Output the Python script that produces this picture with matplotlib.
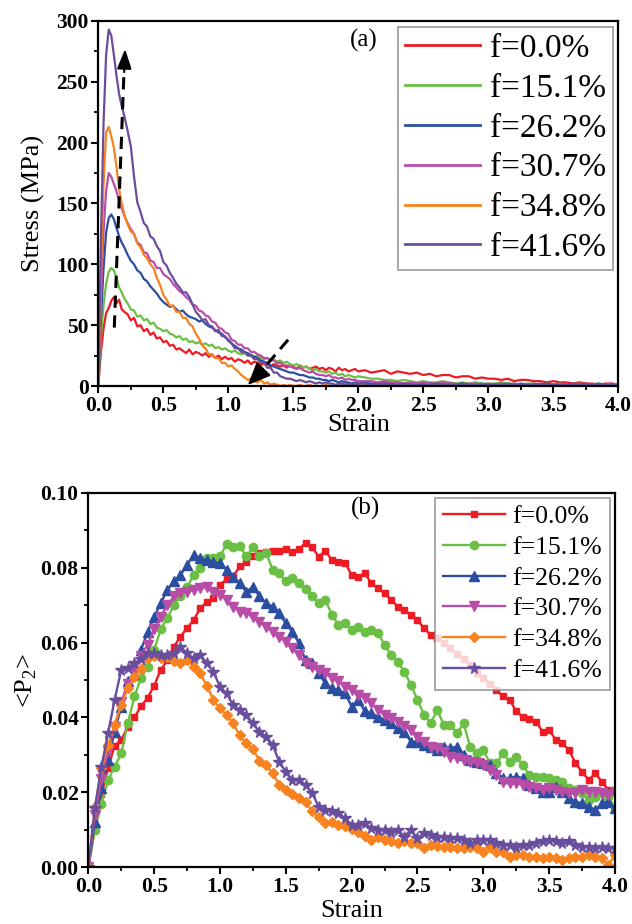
import matplotlib
matplotlib.use("Agg")
import matplotlib.pyplot as plt
from matplotlib.ticker import MultipleLocator
from matplotlib.font_manager import FontProperties

plt.rcParams['font.family'] = ['Liberation Serif', 'DejaVu Serif']
plt.rcParams['mathtext.fontset'] = 'custom'
plt.rcParams['mathtext.rm'] = 'Liberation Serif'

labels = ["f=0.0%", "f=15.1%", "f=26.2%", "f=30.7%", "f=34.8%", "f=41.6%"]
colors = ["#ED1C24", "#6CBF45", "#2B4EA1", "#B84DA8", "#F7821F", "#6A4E9E"]
markers = ["s", "o", "^", "v", "D", "*"]

xticks = [0.0, 0.5, 1.0, 1.5, 2.0, 2.5, 3.0, 3.5, 4.0]
yticks_a = [0, 50, 100, 150, 200, 250, 300]
yticks_b = [0.00, 0.02, 0.04, 0.06, 0.08, 0.10]

# ---------------- panel (a): stress-strain ----------------
strain_a = ([0.00, 0.02, 0.04, 0.06, 0.08, 0.10, 0.12, 0.14, 0.16, 0.18, 0.20] +
            [0.225, 0.25, 0.275, 0.30, 0.325, 0.35, 0.375, 0.40, 0.425, 0.45, 0.475, 0.50,
             0.525, 0.55, 0.575, 0.60, 0.625, 0.65, 0.675, 0.70, 0.725, 0.75, 0.775, 0.80,
             0.825, 0.85, 0.875, 0.90, 0.925, 0.95, 0.975, 1.00, 1.025, 1.05, 1.075, 1.10,
             1.125, 1.15, 1.175, 1.20, 1.225, 1.25, 1.275, 1.30, 1.325, 1.35, 1.375, 1.40,
             1.425, 1.45, 1.475, 1.50, 1.525, 1.55, 1.575, 1.60, 1.625, 1.65, 1.675, 1.70,
             1.725, 1.75, 1.775, 1.80, 1.825, 1.85, 1.875, 1.90, 1.925, 1.95, 1.975, 2.00] +
            [2.05, 2.10, 2.15, 2.20, 2.25, 2.30, 2.35, 2.40, 2.45, 2.50,
             2.55, 2.60, 2.65, 2.70, 2.75, 2.80, 2.85, 2.90, 2.95, 3.00,
             3.05, 3.10, 3.15, 3.20, 3.25, 3.30, 3.35, 3.40, 3.45, 3.50,
             3.55, 3.60, 3.65, 3.70, 3.75, 3.80, 3.85, 3.90, 3.95, 4.00])

stress_f00 = ([0, 28, 47, 60, 64, 70, 73, 68, 71, 63, 61] +
              [59, 54, 56, 49, 50, 45, 47, 42, 44, 39, 40, 36,
               37, 33, 34, 30, 31, 29, 27, 30, 26, 28, 27, 25,
               27, 24, 26, 23, 25, 22, 24, 22, 23, 20, 22, 21,
               19, 21, 18, 20, 19, 17, 19, 18, 16, 18, 17, 16,
               17, 15, 17, 16, 14, 17, 15, 16, 14, 15, 16, 14,
               15, 13, 15, 14, 12, 15, 13, 14, 12, 13, 14, 12] +
              [13, 11, 12, 13, 10, 12, 11, 10, 11, 9,
               10, 8, 9, 9, 7, 8, 8, 6, 7, 6,
               6, 5, 6, 4, 5, 5, 4, 4, 3, 4,
               3, 3, 2, 3, 2, 2, 1, 2, 2, 1])

stress_f151 = ([0, 40, 66, 84, 94, 97, 95, 89, 81, 77, 72] +
               [68, 63, 62, 57, 58, 54, 55, 51, 52, 48, 47, 45,
                46, 43, 42, 40, 41, 38, 39, 36, 37, 35, 36, 34,
                35, 33, 34, 31, 32, 30, 31, 29, 28, 29, 27, 26,
                27, 25, 26, 24, 25, 23, 22, 23, 21, 22, 20, 21,
                19, 20, 18, 17, 18, 16, 15, 16, 14, 13, 14, 12,
                12, 11, 12, 10, 11, 9, 10, 8, 9, 8, 7, 8] +
               [7, 6, 6, 5, 5, 4, 5, 4, 3, 4,
                3, 3, 4, 3, 2, 3, 2, 3, 2, 2,
                2, 3, 2, 2, 1, 2, 2, 1, 2, 1,
                2, 1, 1, 2, 1, 1, 2, 1, 1, 1])

stress_f262 = ([0, 55, 96, 126, 138, 141, 137, 130, 123, 118, 114] +
               [108, 103, 100, 95, 93, 88, 86, 82, 79, 76, 72, 69,
                67, 65, 66, 63, 61, 62, 59, 57, 56, 55, 53, 54,
                51, 49, 48, 46, 44, 43, 40, 38, 35, 33, 31, 30,
                28, 27, 25, 24, 23, 21, 20, 19, 17, 16, 15, 14,
                13, 12, 11, 11, 10, 9, 9, 8, 7, 7, 6, 6,
                5, 5, 4, 5, 4, 3, 4, 3, 3, 2, 3, 2] +
               [3, 2, 2, 3, 2, 1, 2, 2, 1, 2,
                2, 1, 2, 2, 1, 2, 1, 1, 2, 1,
                1, 2, 1, 1, 2, 1, 1, 1, 2, 1,
                1, 1, 2, 1, 1, 1, 2, 1, 1, 1])

stress_f307 = ([0, 70, 126, 160, 175, 172, 166, 160, 152, 146, 140] +
               [134, 129, 125, 118, 116, 110, 109, 103, 102, 97, 97, 92,
                90, 88, 84, 81, 78, 76, 73, 71, 67, 66, 62, 61,
                58, 57, 53, 52, 48, 47, 44, 43, 38, 37, 34, 34,
                31, 31, 28, 28, 26, 25, 23, 23, 21, 21, 19, 19,
                17, 17, 16, 15, 14, 15, 13, 12, 11, 12, 10, 9,
                9, 8, 9, 7, 7, 6, 7, 5, 6, 5, 5, 4] +
               [4, 4, 3, 4, 3, 3, 2, 3, 2, 3,
                2, 2, 3, 2, 2, 1, 2, 2, 1, 2,
                1, 2, 1, 2, 1, 1, 2, 1, 1, 1,
                1, 1, 1, 2, 1, 1, 1, 1, 2, 1])

stress_f348 = ([0, 90, 165, 208, 213, 205, 196, 180, 162, 150, 141] +
               [133, 127, 125, 117, 114, 108, 105, 100, 97, 89, 83, 75,
                71, 66, 66, 61, 61, 56, 56, 51, 49, 43, 39, 33,
                31, 26, 26, 23, 23, 19, 19, 16, 17, 14, 12, 9,
                7, 5, 6, 4, 3, 5, 2, 3, 1, 2, 1, 0,
                1, 0, 1, 0, 0, 1, 0, 0, 1, 0, 0, 0,
                0, 1, 0, 0, 0, 1, 0, 0, 0, 0, 1, 0] +
               [1, 0, 0, 1, 0, 0, 0, 1, 0, 0,
                0, 1, 0, 0, 1, 0, 0, 0, 1, 0,
                0, 0, 1, 0, 0, 1, 0, 0, 0, 1,
                0, 0, 1, 0, 0, 0, 1, 0, 0, 1])

stress_f416 = ([0, 120, 215, 272, 293, 288, 272, 255, 240, 230, 222] +
               [210, 197, 172, 151, 143, 134, 131, 123, 121, 115, 111, 102,
                99, 93, 89, 84, 81, 77, 77, 73, 67, 61, 58, 54,
                55, 50, 49, 45, 46, 41, 41, 37, 35, 31, 31, 28,
                28, 25, 25, 22, 22, 19, 19, 15, 15, 11, 11, 8,
                7, 6, 6, 5, 4, 5, 4, 3, 4, 3, 2, 3,
                2, 3, 2, 2, 1, 2, 2, 1, 2, 1, 1, 2] +
               [2, 1, 1, 2, 1, 1, 2, 1, 1, 1,
                1, 2, 1, 1, 1, 2, 1, 1, 1, 1,
                1, 1, 2, 1, 1, 1, 1, 2, 1, 1,
                1, 1, 1, 1, 2, 1, 1, 1, 1, 1])

stress_series = [stress_f00, stress_f151, stress_f262, stress_f307, stress_f348, stress_f416]

# ---------------- panel (b): <P2> ----------------
strain_b = [0.00, 0.05, 0.10, 0.15, 0.20, 0.25, 0.30, 0.35, 0.40, 0.45,
            0.50, 0.55, 0.60, 0.65, 0.70, 0.75, 0.80, 0.85, 0.90, 0.95,
            1.00, 1.05, 1.10, 1.15, 1.20, 1.25, 1.30, 1.35, 1.40, 1.45,
            1.50, 1.55, 1.60, 1.65, 1.70, 1.75, 1.80, 1.85, 1.90, 1.95,
            2.00, 2.05, 2.10, 2.15, 2.20, 2.25, 2.30, 2.35, 2.40, 2.45,
            2.50, 2.55, 2.60, 2.65, 2.70, 2.75, 2.80, 2.85, 2.90, 2.95,
            3.00, 3.05, 3.10, 3.15, 3.20, 3.25, 3.30, 3.35, 3.40, 3.45,
            3.50, 3.55, 3.60, 3.65, 3.70, 3.75, 3.80, 3.85, 3.90, 3.95,
            4.00]

p2_f00 = [0.0, 0.0105, 0.0195, 0.0265, 0.0325, 0.0340, 0.0375, 0.0400, 0.0430, 0.0452,
          0.0485, 0.0527, 0.0553, 0.0589, 0.0616, 0.0638, 0.0660, 0.0691, 0.0709, 0.0718,
          0.0754, 0.0769, 0.0776, 0.0803, 0.0816, 0.0831, 0.0838, 0.0843, 0.0845, 0.0845,
          0.0849, 0.0843, 0.0849, 0.0867, 0.0854, 0.0829, 0.0845, 0.0820, 0.0816, 0.0813,
          0.0780, 0.0776, 0.0785, 0.0758, 0.0745, 0.0731, 0.0714, 0.0696, 0.0687, 0.0674,
          0.0660, 0.0638, 0.0620, 0.0611, 0.0600, 0.0585, 0.0570, 0.0555, 0.0540, 0.0520,
          0.0505, 0.0490, 0.0473, 0.0456, 0.0447, 0.0416, 0.0402, 0.0395, 0.0389, 0.0362,
          0.0367, 0.0340, 0.0331, 0.0313, 0.0278, 0.0255, 0.0233, 0.0251, 0.0229, 0.0206,
          0.0202]

p2_f151 = [0.0, 0.0100, 0.0170, 0.0233, 0.0268, 0.0304, 0.0384, 0.0456, 0.0505, 0.0535,
           0.0580, 0.0635, 0.0665, 0.0700, 0.0725, 0.0748, 0.0780, 0.0798, 0.0825, 0.0825,
           0.0830, 0.0862, 0.0854, 0.0858, 0.0830, 0.0854, 0.0830, 0.0840, 0.0794, 0.0785,
           0.0763, 0.0771, 0.0758, 0.0742, 0.0723, 0.0705, 0.0714, 0.0674, 0.0647, 0.0651,
           0.0634, 0.0642, 0.0629, 0.0634, 0.0625, 0.0594, 0.0567, 0.0549, 0.0522, 0.0487,
           0.0447, 0.0407, 0.0384, 0.0420, 0.0380, 0.0380, 0.0358, 0.0384, 0.0322, 0.0304,
           0.0313, 0.0278, 0.0278, 0.0304, 0.0282, 0.0295, 0.0273, 0.0246, 0.0242, 0.0240,
           0.0238, 0.0233, 0.0229, 0.0211, 0.0206, 0.0198, 0.0180, 0.0189, 0.0198, 0.0189,
           0.0157]

p2_f262 = [0.0, 0.0120, 0.0211, 0.0287, 0.0362, 0.0429, 0.0496, 0.0515, 0.0580, 0.0628,
           0.0669, 0.0705, 0.0740, 0.0763, 0.0780, 0.0807, 0.0834, 0.0825, 0.0820, 0.0816,
           0.0812, 0.0794, 0.0776, 0.0758, 0.0736, 0.0749, 0.0723, 0.0705, 0.0696, 0.0678,
           0.0651, 0.0629, 0.0598, 0.0553, 0.0545, 0.0518, 0.0491, 0.0478, 0.0473, 0.0465,
           0.0429, 0.0447, 0.0416, 0.0411, 0.0402, 0.0393, 0.0384, 0.0371, 0.0362, 0.0335,
           0.0335, 0.0327, 0.0322, 0.0313, 0.0322, 0.0318, 0.0322, 0.0300, 0.0287, 0.0282,
           0.0278, 0.0273, 0.0251, 0.0238, 0.0238, 0.0242, 0.0238, 0.0220, 0.0211, 0.0202,
           0.0202, 0.0215, 0.0202, 0.0184, 0.0175, 0.0171, 0.0162, 0.0153, 0.0171, 0.0175,
           0.0157]

p2_f307 = [0.0, 0.0140, 0.0235, 0.0310, 0.0375, 0.0440, 0.0490, 0.0525, 0.0565, 0.0594,
           0.0635, 0.0669, 0.0700, 0.0723, 0.0731, 0.0736, 0.0740, 0.0745, 0.0749, 0.0736,
           0.0727, 0.0714, 0.0696, 0.0682, 0.0678, 0.0669, 0.0656, 0.0642, 0.0629, 0.0616,
           0.0602, 0.0585, 0.0567, 0.0545, 0.0536, 0.0527, 0.0518, 0.0505, 0.0496, 0.0482,
           0.0473, 0.0460, 0.0451, 0.0438, 0.0420, 0.0407, 0.0398, 0.0389, 0.0376, 0.0367,
           0.0349, 0.0335, 0.0322, 0.0318, 0.0309, 0.0295, 0.0291, 0.0287, 0.0282, 0.0278,
           0.0273, 0.0260, 0.0246, 0.0229, 0.0224, 0.0224, 0.0220, 0.0215, 0.0211, 0.0206,
           0.0211, 0.0206, 0.0202, 0.0198, 0.0198, 0.0206, 0.0202, 0.0202, 0.0198, 0.0193,
           0.0202]

p2_f348 = [0.0, 0.0160, 0.0265, 0.0327, 0.0380, 0.0433, 0.0478, 0.0507, 0.0530, 0.0558,
           0.0564, 0.0560, 0.0562, 0.0552, 0.0545, 0.0553, 0.0536, 0.0518, 0.0485, 0.0447,
           0.0424, 0.0407, 0.0384, 0.0352, 0.0331, 0.0315, 0.0285, 0.0273, 0.0251, 0.0220,
           0.0206, 0.0195, 0.0186, 0.0173, 0.0150, 0.0135, 0.0119, 0.0122, 0.0113, 0.0109,
           0.0102, 0.0093, 0.0084, 0.0073, 0.0082, 0.0073, 0.0069, 0.0064, 0.0069, 0.0064,
           0.0066, 0.0051, 0.0060, 0.0057, 0.0055, 0.0053, 0.0051, 0.0051, 0.0055, 0.0051,
           0.0042, 0.0055, 0.0042, 0.0042, 0.0028, 0.0033, 0.0033, 0.0028, 0.0028, 0.0024,
           0.0028, 0.0024, 0.0020, 0.0024, 0.0028, 0.0028, 0.0033, 0.0028, 0.0024, 0.0006,
           0.0033]

p2_f416 = [0.0, 0.0157, 0.0269, 0.0358, 0.0447, 0.0527, 0.0533, 0.0545, 0.0555, 0.0573,
           0.0573, 0.0567, 0.0567, 0.0573, 0.0589, 0.0571, 0.0558, 0.0567, 0.0545, 0.0522,
           0.0482, 0.0464, 0.0433, 0.0420, 0.0407, 0.0384, 0.0362, 0.0349, 0.0327, 0.0282,
           0.0255, 0.0233, 0.0233, 0.0220, 0.0198, 0.0162, 0.0153, 0.0149, 0.0144, 0.0131,
           0.0113, 0.0113, 0.0117, 0.0104, 0.0100, 0.0100, 0.0095, 0.0100, 0.0082, 0.0100,
           0.0077, 0.0091, 0.0086, 0.0082, 0.0082, 0.0077, 0.0077, 0.0073, 0.0064, 0.0073,
           0.0073, 0.0073, 0.0064, 0.0060, 0.0060, 0.0055, 0.0060, 0.0060, 0.0064, 0.0069,
           0.0073, 0.0069, 0.0064, 0.0069, 0.0060, 0.0055, 0.0055, 0.0051, 0.0055, 0.0051,
           0.0051]

p2_series = [p2_f00, p2_f151, p2_f262, p2_f307, p2_f348, p2_f416]

W, H = 632, 924
fig = plt.figure(figsize=(W / 100, H / 100), dpi=100)

def px_axes(l, r, t, b):
    return fig.add_axes([l / W, 1 - b / H, (r - l) / W, (b - t) / H])

ax1 = px_axes(98.3, 618.3, 21, 386)
ax2 = px_axes(88.3, 615, 492.7, 867.3)

tick_fp = FontProperties(family='Liberation Serif', weight='bold', size=15.5)

def style(ax, yticks, yfmt, yminor):
    for sp in ax.spines.values():
        sp.set_linewidth(1.6)
    ax.set_xticks(xticks)
    ax.set_xticklabels(['%.1f' % v for v in xticks], fontproperties=tick_fp)
    ax.set_yticks(yticks)
    ax.set_yticklabels([yfmt % v for v in yticks], fontproperties=tick_fp)
    ax.xaxis.set_minor_locator(MultipleLocator(0.25))
    ax.yaxis.set_minor_locator(MultipleLocator(yminor))
    ax.tick_params(which='major', direction='out', length=5, width=1.5,
                   top=False, right=False, pad=2)
    ax.tick_params(which='minor', direction='out', length=3, width=1.3,
                   top=False, right=False)

# panel (a)
for y, c, lab in zip(stress_series, colors, labels):
    ax1.plot(strain_a, y, color=c, lw=1.6, label=lab)
style(ax1, yticks_a, '%d', 25)
ax1.set_xlim(0, 4.0)
ax1.set_ylim(0, 300)
ax1.set_xlabel('Strain', fontsize=19, labelpad=-1)
ax1.set_ylabel('Stress (MPa)', fontsize=19, labelpad=8)
ax1.text(2.04, 284, '(a)', fontsize=18, ha='center', va='center')
leg1 = ax1.legend(loc='upper right', bbox_to_anchor=(0.9898, 0.9844), borderaxespad=0,
                  prop={'size': 24}, handlelength=2.25,
                  handletextpad=0.3, labelspacing=0.28, borderpad=0.2,
                  frameon=True, fancybox=False)
leg1.get_frame().set_edgecolor('#808080')
leg1.get_frame().set_linewidth(1.2)
for ln in leg1.get_lines():
    ln.set_linewidth(2.0)

# dashed arrows in panel (a)
ax1.plot([0.123, 0.199], [48, 262], color='k', lw=2.2, dashes=(4, 2.5))
ax1.annotate('', xy=(0.206, 277), xytext=(0.199, 258),
             arrowprops=dict(arrowstyle='-|>,head_length=0.6,head_width=0.22',
                             color='k', lw=1.5, shrinkA=0, shrinkB=0, mutation_scale=20))
ax1.plot([1.46, 1.22], [38, 8], color='k', lw=2.2, dashes=(4, 2.5))
ax1.annotate('', xy=(1.15, 0.8), xytext=(1.23, 9.5),
             arrowprops=dict(arrowstyle='-|>,head_length=0.7,head_width=0.3',
                             color='k', lw=1.5, shrinkA=0, shrinkB=0, mutation_scale=20))

# panel (b)
msizes = [5.0, 6.0, 6.5, 6.5, 5.0, 8.5]
for y, c, m, ms, lab in zip(p2_series, colors, markers, msizes, labels):
    ax2.plot(strain_b, y, color=c, lw=1.7, marker=m, ms=ms, mec=c, mfc=c, label=lab)
style(ax2, yticks_b, '%.2f', 0.01)
ax2.set_xlim(0, 4.0)
ax2.set_ylim(0, 0.10)
ax2.set_xlabel('Strain', fontsize=19, labelpad=2)
ax2.set_ylabel(r'<P$_\mathregular{2}$>', fontsize=19, labelpad=1)
ax2.text(2.107, 0.0958, '(b)', fontsize=18, ha='center', va='center')
leg2 = ax2.legend(loc='upper right', bbox_to_anchor=(0.9905, 0.9867), borderaxespad=0,
                  prop={'size': 18.5}, handlelength=2.4,
                  handletextpad=0.3, labelspacing=0.3, borderpad=0.3, numpoints=1,
                  frameon=True, fancybox=False)
leg2.get_frame().set_edgecolor('#808080')
leg2.get_frame().set_linewidth(1.2)

fig.savefig('out.png', dpi=100)
